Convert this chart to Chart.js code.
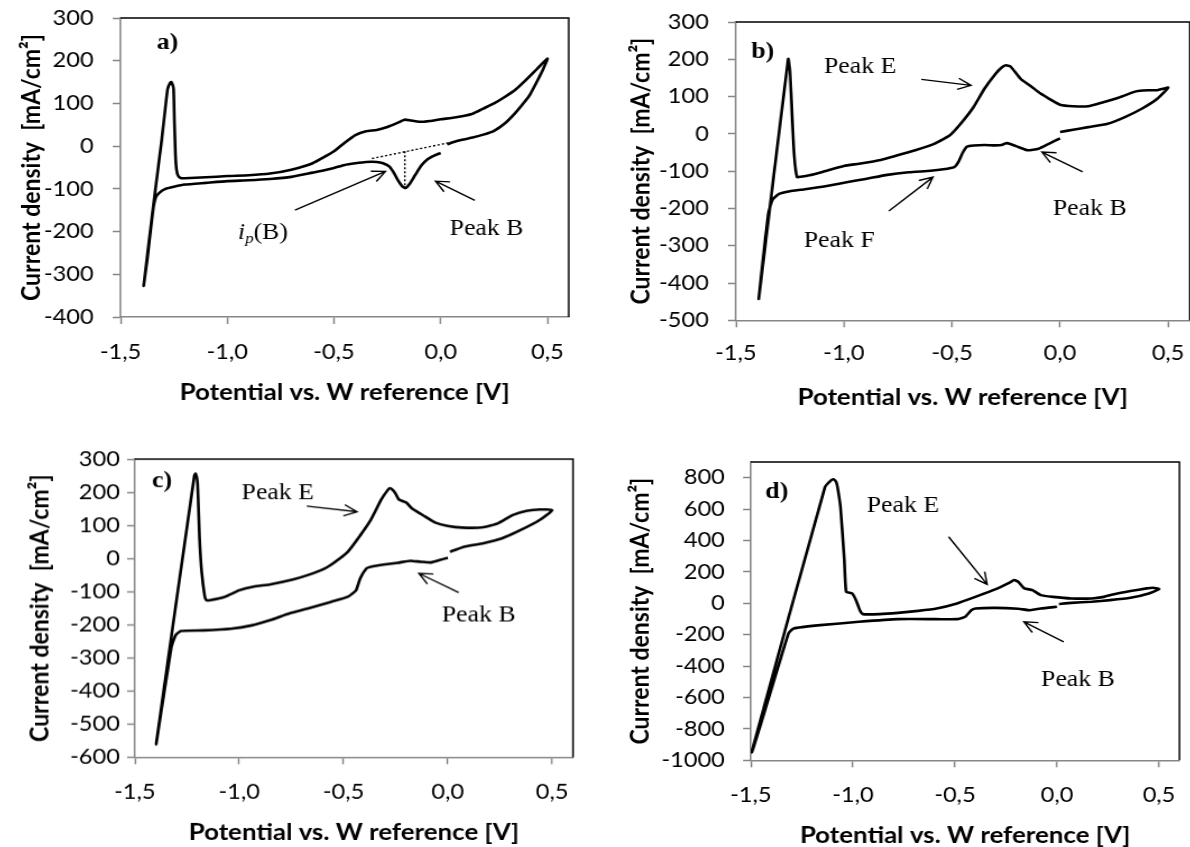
<!DOCTYPE html>
<html>
<head>
<meta charset="utf-8">
<script src="https://cdn.jsdelivr.net/npm/chart.js@4"></script>
<style>
  html, body { margin: 0; padding: 0; background: #fff; }
  body { width: 1190px; height: 847px; position: relative; overflow: hidden; }
  .panel { position: absolute; transform-origin: 0 0; }
</style>
</head>
<body>
<div class="panel" id="boxA"><canvas id="cvA"></canvas></div>
<div class="panel" id="boxB"><canvas id="cvB"></canvas></div>
<div class="panel" id="boxC"><canvas id="cvC"></canvas></div>
<div class="panel" id="boxD"><canvas id="cvD"></canvas></div>
<script>
// ---- data (potential in V, current density in mA/cm2) ----
const xTicks = [-1.5, -1.0, -0.5, 0.0, 0.5];

const yTicksA = [-400, -300, -200, -100, 0, 100, 200, 300];
const potA = [0.0, -0.03, -0.06, -0.09, -0.12, -0.145, -0.165, -0.18, -0.2, -0.22, -0.24, -0.27, -0.3, -0.35, -0.4, -0.45, -0.5, -0.55, -0.6, -0.7, -0.8, -0.9, -1.0, -1.1, -1.2, -1.25, -1.29, -1.32, -1.335, -1.345, -1.36, -1.375, -1.392,
  -1.343, -1.307, -1.28, -1.268, -1.262, -1.252, -1.248, -1.243, -1.238, -1.23, -1.216,
  -1.2, -1.1, -1.0, -0.9, -0.8, -0.7, -0.6, -0.5, -0.45, -0.4, -0.35, -0.3, -0.25, -0.2, -0.17, -0.14, -0.1, -0.05, 0.0, 0.05, 0.1, 0.15, 0.2, 0.25, 0.3, 0.35, 0.4, 0.45, 0.5,
  0.48, 0.45, 0.42, 0.4, 0.35, 0.3, 0.25, 0.2, 0.15, 0.1, 0.05, 0.03];
const curA = [-16, -22, -30, -45, -68, -88, -98, -94, -80, -62, -48, -40, -37, -37, -40, -44, -51, -57, -62, -72, -77, -80, -82, -86, -90, -95, -100, -110, -120, -140, -200, -265, -327,
  -125, 16, 133, 148, 150, 135, 60, -20, -55, -70, -75,
  -75, -73, -70, -68, -64, -55, -40, -12, 8, 26, 35, 38, 45, 55, 62, 60, 57, 59, 63, 66, 70, 76, 88, 100, 115, 132, 155, 180, 205,
  180, 150, 122, 108, 78, 53, 36, 27, 20, 15, 8, 4];
const basePotA = [-0.322, 0.048];
const baseCurA = [-29, 9];
const dropPotA = [-0.168, -0.168];
const dropCurA = [-12, -94];

const yTicksB = [-500, -400, -300, -200, -100, 0, 100, 200, 300];
const potB = [0.0, -0.05, -0.1, -0.15, -0.19, -0.23, -0.25, -0.27, -0.3, -0.35, -0.4, -0.43, -0.45, -0.47, -0.49, -0.54, -0.6, -0.7, -0.8, -0.9, -1.0, -1.1, -1.2, -1.25, -1.3, -1.33, -1.35, -1.394,
  -1.258, -1.25, -1.24, -1.23, -1.217,
  -1.2, -1.16, -1.1, -1.0, -0.93, -0.83, -0.76, -0.67, -0.58, -0.51, -0.46, -0.4, -0.35, -0.3, -0.27, -0.25, -0.23, -0.2, -0.18, -0.14, -0.09, -0.05, 0.0, 0.06, 0.13, 0.2, 0.27, 0.34, 0.36, 0.41, 0.45, 0.5,
  0.45, 0.38, 0.3, 0.22, 0.13, 0.06, 0.0];
const curB = [-12, -26, -40, -44, -36, -27, -25, -30, -31, -30, -31, -34, -50, -75, -89, -95, -99, -103, -110, -121, -131, -142, -150, -154, -161, -176, -214, -442,
  201, 170, 50, -60, -116,
  -115, -111, -102, -86, -80, -70, -59, -44, -26, -4, 27, 72, 121, 160, 178, 184, 181, 160, 146, 130, 108, 94, 78, 74, 74, 85, 97, 112, 115, 117, 117, 124,
  94, 68, 45, 27, 18, 11, 5];

const yTicksC = [-600, -500, -400, -300, -200, -100, 0, 100, 200, 300];
const potC = [0.0, -0.04, -0.08, -0.13, -0.18, -0.24, -0.3, -0.37, -0.39, -0.42, -0.44, -0.48, -0.56, -0.67, -0.76, -0.85, -0.94, -1.04, -1.17, -1.28, -1.305, -1.325, -1.398,
  -1.215, -1.209, -1.2, -1.19, -1.18, -1.165, -1.157,
  -1.14, -1.07, -1.0, -0.93, -0.85, -0.74, -0.67, -0.59, -0.54, -0.48, -0.43, -0.37, -0.32, -0.29, -0.278, -0.265, -0.25, -0.235, -0.2, -0.17, -0.11, -0.06, 0.0, 0.07, 0.17, 0.24, 0.31, 0.38, 0.44, 0.5,
  0.44, 0.35, 0.26, 0.17, 0.07, 0.01];
const curC = [2, -5, -12, -10, -7, -13, -18, -25, -30, -60, -96, -116, -131, -151, -166, -186, -202, -212, -217, -219, -232, -267, -560,
  250, 256, 230, 60, -40, -115, -126,
  -126, -116, -96, -85, -78, -63, -50, -30, -10, 20, 61, 116, 177, 205, 212, 207, 195, 178, 169, 150, 127, 108, 98, 93, 94, 106, 131, 144, 148, 146,
  116, 86, 61, 46, 34, 20];

const yTicksD = [-1000, -800, -600, -400, -200, 0, 200, 400, 600, 800];
const potD = [0.0, -0.08, -0.13, -0.19, -0.3, -0.4, -0.42, -0.45, -0.49, -0.59, -0.78, -0.97, -1.16, -1.29, -1.316, -1.496,
  -1.137, -1.11, -1.095, -1.083, -1.076, -1.061, -1.042, -1.033, -1.004, -0.985, -0.966, -0.951,
  -0.87, -0.78, -0.68, -0.59, -0.49, -0.4, -0.3, -0.23, -0.21, -0.19, -0.16, -0.12, -0.08, -0.02, 0.07, 0.17, 0.23, 0.28, 0.36, 0.44, 0.47, 0.5,
  0.45, 0.36, 0.26, 0.17, 0.07, 0.01];
const curD = [-22, -33, -44, -35, -29, -33, -44, -86, -101, -101, -101, -118, -139, -160, -193, -947,
  740, 780, 790, 775, 743, 615, 275, 73, 63, 20, -44, -69,
  -69, -61, -48, -33, -1, 41, 90, 133, 148, 137, 95, 84, 52, 41, 31, 31, 41, 58, 78, 95, 99, 90,
  63, 35, 20, 10, 3, -5];

// ---- look ----
const STRETCH = 1.12;        // the original figure is wider than tall
const YW = 130, XH = 110, PAD_T = 36, PAD_R = 24;
const TICK_LEN = 7;
const TICK_FONT = { family: 'Lato', size: 21, lineHeight: 1.2 };
const TITLE_FONT = { family: 'Lato', size: 23, weight: 'bold', lineHeight: 1.2 };
const AXIS_GREY = '#868686';
const SERIF = 'Liberation Serif';

function peak(x, y, text) {
  return { x, y, parts: [{ t: text, font: `23px "${SERIF}"` }] };
}
function tag(x, y, text) {
  return { x, y, parts: [{ t: text, font: `bold 23px "${SERIF}"` }] };
}

const notesPlugin = {
  id: 'notes',
  afterDatasetsDraw(chart, args, opts) {
    const ctx = chart.ctx;
    const sx = chart.scales.x, sy = chart.scales.y;
    const ca = chart.chartArea;
    ctx.save();
    // plot frame (top and right edge)
    ctx.strokeStyle = '#000';
    ctx.lineWidth = 1.5;
    ctx.beginPath();
    ctx.moveTo(ca.left, ca.top);
    ctx.lineTo(ca.right, ca.top);
    ctx.lineTo(ca.right, ca.bottom);
    ctx.stroke();

    ctx.fillStyle = '#000';
    ctx.textBaseline = 'middle';
    (opts.texts || []).forEach(t => {
      const px = sx.getPixelForValue(t.x), py = sy.getPixelForValue(t.y);
      let w = 0;
      t.parts.forEach(p => { ctx.font = p.font; w += ctx.measureText(p.t).width; });
      let cx = px - w / 2;
      t.parts.forEach(p => {
        ctx.font = p.font;
        ctx.fillText(p.t, cx, py + (p.dy || 0));
        cx += ctx.measureText(p.t).width;
      });
    });

    ctx.lineWidth = 1.4;
    (opts.arrows || []).forEach(a => {
      const x0 = sx.getPixelForValue(a[0]), y0 = sy.getPixelForValue(a[1]);
      const x1 = sx.getPixelForValue(a[2]), y1 = sy.getPixelForValue(a[3]);
      const ang = Math.atan2(y1 - y0, x1 - x0);
      const hl = 13, spread = 0.45;
      ctx.beginPath();
      ctx.moveTo(x0, y0);
      ctx.lineTo(x1, y1);
      ctx.moveTo(x1 - hl * Math.cos(ang - spread), y1 - hl * Math.sin(ang - spread));
      ctx.lineTo(x1, y1);
      ctx.lineTo(x1 - hl * Math.cos(ang + spread), y1 - hl * Math.sin(ang + spread));
      ctx.stroke();
    });
    ctx.restore();
  }
};

function pts(xs, ys) {
  return xs.map((x, i) => ({ x: x, y: ys[i] }));
}

function makePanel(p) {
  const box = document.getElementById(p.box);
  const w = YW + (p.right - p.left) / STRETCH + PAD_R;
  const h = PAD_T + (p.bottom - p.top) + XH;
  box.style.left = (p.left - YW * STRETCH) + 'px';
  box.style.top = (p.top - PAD_T) + 'px';
  box.style.width = w + 'px';
  box.style.height = h + 'px';
  box.style.transform = `scaleX(${STRETCH})`;

  const titleLH = TITLE_FONT.size * TITLE_FONT.lineHeight;
  const tickLH = TICK_FONT.size * TICK_FONT.lineHeight;

  const datasets = [{
    data: pts(p.pot, p.cur),
    showLine: true,
    borderColor: '#000',
    borderWidth: 2.6,
    pointRadius: 0,
    tension: 0.15,
    spanGaps: false
  }];
  (p.dotted || []).forEach(d => datasets.push({
    data: pts(d[0], d[1]),
    showLine: true,
    borderColor: '#000',
    borderWidth: 1.4,
    borderDash: [2, 2],
    pointRadius: 0
  }));

  new Chart(document.getElementById(p.canvas), {
    type: 'scatter',
    data: { datasets: datasets },
    options: {
      responsive: true,
      maintainAspectRatio: false,
      animation: false,
      layout: { padding: { top: PAD_T, right: PAD_R, left: 0, bottom: 0 } },
      plugins: {
        legend: { display: false },
        tooltip: { enabled: false },
        notes: { texts: p.texts, arrows: p.arrows }
      },
      scales: {
        x: {
          type: 'linear',
          min: -1.5, max: 0.6,
          afterBuildTicks: s => { s.ticks = xTicks.map(v => ({ value: v })); },
          afterFit: s => { s.height = XH; },
          grid: { drawOnChartArea: false, drawTicks: true, tickLength: TICK_LEN, tickWidth: 1.5, tickColor: AXIS_GREY },
          border: { color: AXIS_GREY, width: 1.5 },
          ticks: {
            color: '#000', font: TICK_FONT, maxRotation: 0, autoSkip: false,
            padding: p.xLabelGap - TICK_LEN - tickLH / 2,
            callback: v => v.toFixed(1).replace('.', ',')
          },
          title: {
            display: true, text: 'Potential vs. W reference [V]', color: '#000', font: TITLE_FONT,
            padding: { top: 0, bottom: XH - p.xTitleGap - titleLH / 2 }
          }
        },
        y: {
          type: 'linear',
          min: p.yMin, max: p.yMax,
          afterBuildTicks: s => { s.ticks = p.yTicks.map(v => ({ value: v })); },
          afterFit: s => { s.width = YW; },
          grid: { drawOnChartArea: false, drawTicks: true, tickLength: TICK_LEN, tickWidth: 1.5, tickColor: AXIS_GREY },
          border: { color: AXIS_GREY, width: 1.5 },
          ticks: {
            color: '#000', font: TICK_FONT, autoSkip: false,
            padding: p.yLabelGap / STRETCH - TICK_LEN,
            callback: v => String(v)
          },
          title: {
            display: true, text: 'Current density  [mA/cm²]', color: '#000', font: TITLE_FONT,
            padding: { top: YW - p.yTitleGap / STRETCH - titleLH / 2, bottom: 0 }
          }
        }
      }
    },
    plugins: [notesPlugin]
  });
}

makePanel({
  box: 'boxA', canvas: 'cvA', pot: potA, cur: curA,
  dotted: [[basePotA, baseCurA], [dropPotA, dropCurA]],
  yMin: -400, yMax: 300, yTicks: yTicksA,
  left: 120.4, right: 568.5, top: 18, bottom: 317,
  yLabelGap: 27, yTitleGap: 89, xLabelGap: 35, xTitleGap: 76,
  texts: [
    tag(-1.28, 242, 'a)'),
    { x: -0.833, y: -203, parts: [
      { t: 'i', font: `italic 23px "${SERIF}"` },
      { t: 'p', font: `italic 15px "${SERIF}"`, dy: 6 },
      { t: '(B)', font: `23px "${SERIF}"` }] },
    peak(0.215, -195, 'Peak B')
  ],
  arrows: [[-0.683, -150, -0.259, -59], [0.16, -127, -0.024, -82]]
});

makePanel({
  box: 'boxB', canvas: 'cvB', pot: potB, cur: curB,
  yMin: -500, yMax: 300, yTicks: yTicksB,
  left: 736, right: 1189, top: 21.7, bottom: 320,
  yLabelGap: 27, yTitleGap: 95, xLabelGap: 32.5, xTitleGap: 77,
  texts: [
    tag(-1.376, 219, 'b)'),
    peak(-0.925, 179, 'Peak E'),
    peak(-1.022, -286, 'Peak F'),
    peak(0.137, -201, 'Peak B')
  ],
  arrows: [[-0.642, 146, -0.412, 130], [-0.792, -207, -0.588, -116], [0.105, -102, -0.084, -49]]
});

makePanel({
  box: 'boxC', canvas: 'cvC', pot: potC, cur: curC,
  yMin: -600, yMax: 300, yTicks: yTicksC,
  left: 134.6, right: 572, top: 459.3, bottom: 756.7,
  yLabelGap: 15, yTitleGap: 95, xLabelGap: 35, xTitleGap: 75,
  texts: [
    tag(-1.37, 232, 'c)'),
    peak(-0.815, 197, 'Peak E'),
    peak(0.148, -171, 'Peak B')
  ],
  arrows: [[-0.676, 158, -0.435, 141], [0.052, -103, -0.139, -45]]
});

makePanel({
  box: 'boxD', canvas: 'cvD', pot: potD, cur: curD,
  yMin: -1000, yMax: 900, yTicks: yTicksD,
  left: 750.8, right: 1178.5, top: 461.7, bottom: 760,
  yLabelGap: 26, yTitleGap: 110, xLabelGap: 35, xTitleGap: 75,
  texts: [
    tag(-1.373, 710, 'd)'),
    peak(-0.755, 619, 'Peak E'),
    peak(0.103, -490, 'Peak B')
  ],
  arrows: [[-0.531, 424, -0.342, 120], [0.033, -245, -0.162, -118]]
});
</script>
</body>
</html>
